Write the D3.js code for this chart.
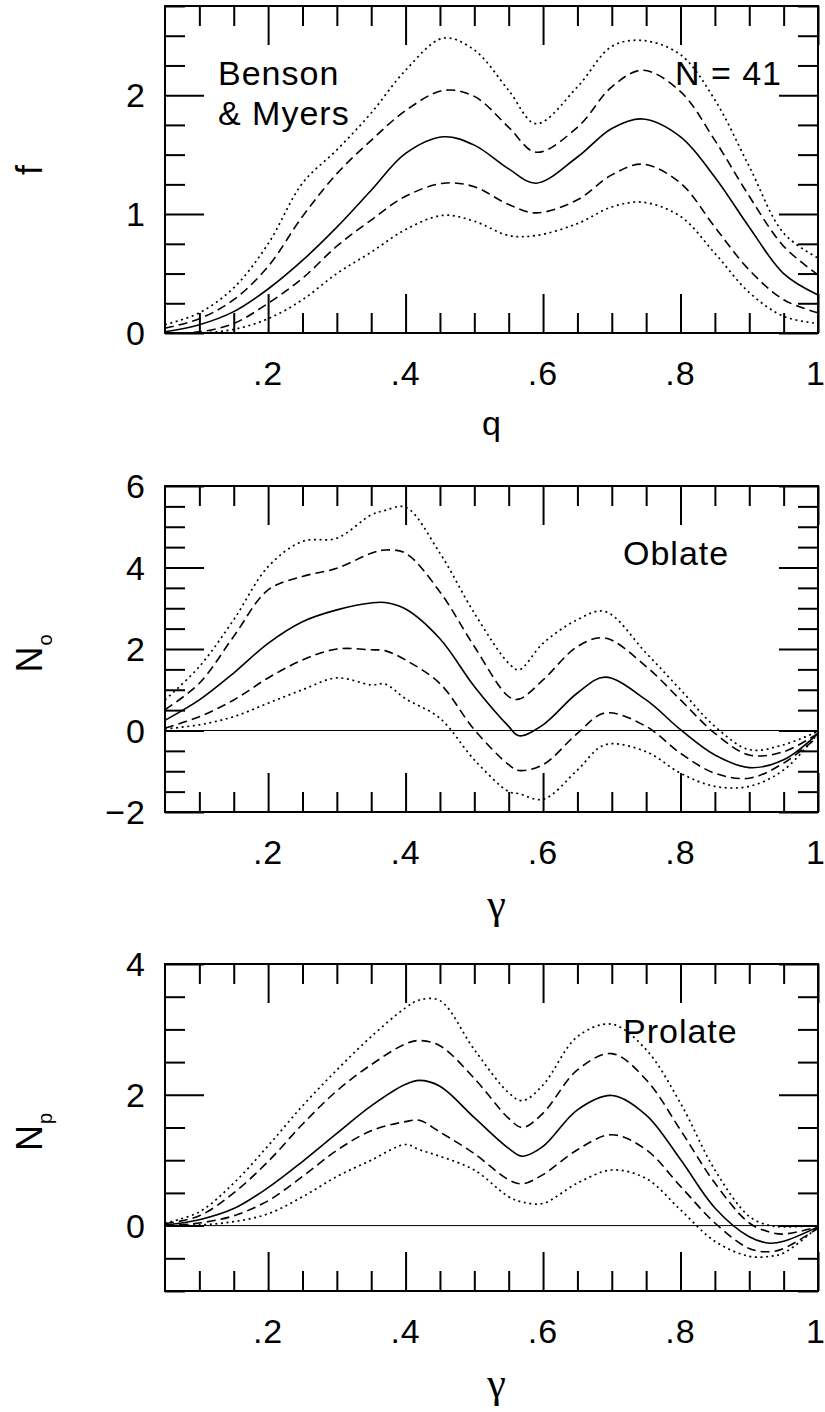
<!DOCTYPE html>
<html>
<head>
<meta charset="utf-8">
<script src="https://cdn.jsdelivr.net/npm/d3@7"></script>
<style>
  body { margin: 0; background: #fff; }
  svg { display: block; }
  text { font-family: "Liberation Sans", Arial, sans-serif; fill: #000; letter-spacing: 1px; }
</style>
</head>
<body>
<script>
const width = 825;
const height = 1412;

// shared x axis
const xDomain = [0.05, 1];
const xMajor = [0.2, 0.4, 0.6, 0.8, 1];
const xLabels = [".2", ".4", ".6", ".8", "1"];
const xMinor = d3.range(0.1, 1.0001, 0.05);

// panel 1: f(q), Benson & Myers
const q1 = [0.05,0.1,0.15,0.2,0.25,0.3,0.35,0.4,0.455,0.5,0.55,0.59,0.65,0.7,0.745,0.8,0.85,0.9,0.95,1];
const f1Median = [0.01,0.07,0.18,0.37,0.61,0.89,1.20,1.51,1.65,1.58,1.38,1.26,1.48,1.72,1.80,1.65,1.31,0.89,0.50,0.32];
const f1DashHi = [0.04,0.12,0.28,0.56,0.98,1.34,1.62,1.87,2.04,1.99,1.73,1.52,1.73,2.07,2.21,2.03,1.62,1.15,0.73,0.49];
const f1DashLo = [0.0,0.01,0.08,0.25,0.46,0.73,0.95,1.15,1.26,1.23,1.08,1.01,1.12,1.33,1.42,1.26,0.89,0.53,0.28,0.17];
const f1DotHi = [0.07,0.17,0.38,0.75,1.26,1.54,1.85,2.21,2.48,2.38,2.04,1.76,2.07,2.41,2.46,2.34,1.96,1.40,0.84,0.63];
const f1DotLo = [0.0,0.0,0.03,0.12,0.28,0.50,0.68,0.87,0.99,0.94,0.82,0.82,0.92,1.06,1.10,0.98,0.67,0.34,0.14,0.08];

// panel 2: N_o(gamma), oblate
const g2 = [0.05,0.1,0.15,0.2,0.25,0.3,0.35,0.37,0.4,0.45,0.5,0.55,0.565,0.6,0.65,0.69,0.75,0.8,0.85,0.9,0.95,1];
const n2Median = [0.25,0.75,1.41,2.14,2.67,2.96,3.13,3.14,2.98,2.25,1.08,0.10,-0.13,0.14,0.92,1.31,0.75,0.02,-0.60,-0.91,-0.72,-0.07];
const n2DashHi = [0.51,1.16,2.31,3.45,3.78,3.98,4.35,4.43,4.35,3.40,2.06,0.83,0.77,1.24,2.06,2.27,1.57,0.75,-0.07,-0.60,-0.52,-0.07];
const n2DashLo = [0.06,0.34,0.75,1.29,1.73,2.0,1.98,1.96,1.73,1.15,0.02,-0.84,-0.98,-0.84,-0.07,0.43,0.10,-0.56,-1.05,-1.17,-0.80,-0.15];
const n2DotHi = [0.75,1.57,2.72,4.02,4.64,4.72,5.29,5.40,5.48,4.35,2.88,1.65,1.49,2.14,2.72,2.92,1.90,1.0,0.10,-0.47,-0.35,-0.02];
const n2DotLo = [0.04,0.14,0.34,0.67,1.0,1.29,1.12,1.14,0.78,0.30,-0.72,-1.50,-1.55,-1.69,-0.97,-0.35,-0.52,-1.05,-1.37,-1.37,-0.97,-0.07];

// panel 3: N_p(gamma), prolate
const g3 = [0.05,0.1,0.15,0.2,0.25,0.3,0.35,0.4,0.42,0.45,0.5,0.55,0.57,0.6,0.65,0.7,0.75,0.8,0.85,0.9,0.93,0.95,1];
const n3Median = [0.01,0.09,0.26,0.58,0.98,1.41,1.83,2.16,2.22,2.13,1.65,1.18,1.06,1.21,1.77,1.99,1.69,1.01,0.27,-0.17,-0.27,-0.24,-0.02];
const n3DashHi = [0.03,0.15,0.50,0.98,1.55,2.06,2.46,2.78,2.83,2.75,2.25,1.64,1.5,1.72,2.38,2.63,2.23,1.46,0.65,0.04,-0.10,-0.13,-0.02];
const n3DashLo = [0.0,0.04,0.15,0.38,0.75,1.15,1.45,1.59,1.61,1.43,1.10,0.70,0.64,0.78,1.16,1.39,1.16,0.6,0.04,-0.35,-0.40,-0.35,-0.04];
const n3DotHi = [0.04,0.21,0.65,1.22,1.83,2.38,2.89,3.33,3.45,3.44,2.69,2.03,1.91,2.15,2.89,3.08,2.69,1.87,0.85,0.14,0.0,-0.02,0.0];
const n3DotLo = [0.0,0.01,0.06,0.18,0.44,0.75,1.0,1.24,1.16,1.06,0.85,0.44,0.36,0.34,0.65,0.85,0.72,0.24,-0.24,-0.47,-0.47,-0.42,-0.02];

const styles = {
  solid:  { dash: null,    w: 1.6 },
  dashed: { dash: "9,5",   w: 1.6 },
  dotted: { dash: "2,3.6", w: 1.7 }
};

const panels = [
  { top: 6, bottom: 333, yDomain: [0, 2.75], yMajor: [0, 1, 2], yMinorStep: 0.25,
    yLabels: [0, 1, 2], xTitle: "q", yTitle: "f", ySub: "", zeroLine: false,
    x: q1, series: [[f1DotHi,"dotted"],[f1DashHi,"dashed"],[f1Median,"solid"],[f1DashLo,"dashed"],[f1DotLo,"dotted"]] },
  { top: 486, bottom: 812, yDomain: [-2, 6], yMajor: [-2, 0, 2, 4, 6], yMinorStep: 0.5,
    yLabels: [-2, 0, 2, 4, 6], xTitle: "γ", yTitle: "N", ySub: "o", zeroLine: true,
    x: g2, series: [[n2DotHi,"dotted"],[n2DashHi,"dashed"],[n2Median,"solid"],[n2DashLo,"dashed"],[n2DotLo,"dotted"]] },
  { top: 964, bottom: 1291, yDomain: [-1, 4], yMajor: [0, 2, 4], yMinorStep: 0.5,
    yLabels: [0, 2, 4], xTitle: "γ", yTitle: "N", ySub: "p", zeroLine: true,
    x: g3, series: [[n3DotHi,"dotted"],[n3DashHi,"dashed"],[n3Median,"solid"],[n3DashLo,"dashed"],[n3DotLo,"dotted"]] }
];

const left = 165, right = 818;
const majorLen = 39, minorLen = 20;
const fs = 34;

const svg = d3.select("body").append("svg")
  .attr("width", width)
  .attr("height", height);

const x = d3.scaleLinear().domain(xDomain).range([left, right]);

const fmtY = d => d < 0 ? "\u2212" + Math.abs(d) : String(d);

panels.forEach((p, i) => {
  const y = d3.scaleLinear().domain(p.yDomain).range([p.bottom, p.top]);
  const g = svg.append("g").attr("class", "panel" + i);
  const h = p.bottom - p.top;

  const yMinor = d3.range(Math.ceil(p.yDomain[0] / p.yMinorStep) * p.yMinorStep, p.yDomain[1] + 1e-9, p.yMinorStep)
    .filter(v => !p.yMajor.some(m => Math.abs(m - v) < 1e-9));
  const xMin = xMinor.filter(v => !xMajor.some(m => Math.abs(m - v) < 1e-9));

  const tickStyle = sel => {
    sel.select(".domain").remove();
    sel.selectAll(".tick line").attr("stroke", "#000").attr("stroke-width", 2);
    sel.selectAll(".tick text").remove();
  };

  // inward ticks on all four sides
  g.append("g").attr("transform", `translate(0,${p.bottom})`)
    .call(d3.axisBottom(x).tickValues(xMin).tickSize(-minorLen)).call(tickStyle);
  g.append("g").attr("transform", `translate(0,${p.bottom})`)
    .call(d3.axisBottom(x).tickValues(xMajor).tickSize(-majorLen)).call(tickStyle);
  g.append("g").attr("transform", `translate(0,${p.top})`)
    .call(d3.axisTop(x).tickValues(xMin).tickSize(-minorLen)).call(tickStyle);
  g.append("g").attr("transform", `translate(0,${p.top})`)
    .call(d3.axisTop(x).tickValues(xMajor).tickSize(-majorLen)).call(tickStyle);
  g.append("g").attr("transform", `translate(${left},0)`)
    .call(d3.axisLeft(y).tickValues(yMinor).tickSize(-minorLen)).call(tickStyle);
  g.append("g").attr("transform", `translate(${left},0)`)
    .call(d3.axisLeft(y).tickValues(p.yMajor).tickSize(-majorLen)).call(tickStyle);
  g.append("g").attr("transform", `translate(${right},0)`)
    .call(d3.axisRight(y).tickValues(yMinor).tickSize(-minorLen)).call(tickStyle);
  g.append("g").attr("transform", `translate(${right},0)`)
    .call(d3.axisRight(y).tickValues(p.yMajor).tickSize(-majorLen)).call(tickStyle);

  // frame
  g.append("rect")
    .attr("x", left).attr("y", p.top)
    .attr("width", right - left).attr("height", h)
    .attr("fill", "none").attr("stroke", "#000").attr("stroke-width", 2);

  if (p.zeroLine) {
    g.append("line")
      .attr("x1", left).attr("x2", right)
      .attr("y1", y(0)).attr("y2", y(0))
      .attr("stroke", "#000").attr("stroke-width", 1);
  }

  // tick labels
  g.selectAll(".xlab").data(xMajor).enter().append("text")
    .attr("x", d => x(d) - (d === 1 ? 2 : 0)).attr("y", p.bottom + 52)
    .attr("text-anchor", "middle").attr("font-size", fs)
    .text((d, k) => xLabels[k]);
  g.selectAll(".ylab").data(p.yLabels).enter().append("text")
    .attr("x", left - 19).attr("y", d => y(d) + 12)
    .attr("text-anchor", "end").attr("font-size", fs)
    .text(fmtY);

  // axis titles
  if (p.xTitle === "q") {
    g.append("text")
      .attr("x", 492).attr("y", p.bottom + 102)
      .attr("text-anchor", "middle").attr("font-size", fs)
      .text(p.xTitle);
  } else {
    g.append("text")
      .attr("x", 497).attr("y", p.bottom + 106)
      .attr("text-anchor", "middle").attr("font-size", 42)
      .style("font-family", "'Liberation Serif', serif")
      .text(p.xTitle);
  }
  const yt = g.append("text")
    .attr("transform", `translate(42,${(p.top + p.bottom) / 2 + (p.ySub ? 4 : 0)}) rotate(-90)`)
    .attr("text-anchor", "middle").attr("font-size", 36);
  yt.append("tspan").text(p.yTitle);
  if (p.ySub) yt.append("tspan").attr("font-size", 20).attr("dy", 10).text(p.ySub);

  // curves
  const clipId = "clip" + i;
  svg.append("clipPath").attr("id", clipId).append("rect")
    .attr("x", left).attr("y", p.top).attr("width", right - left).attr("height", h);
  const line = d3.line()
    .x(d => x(d[0])).y(d => y(d[1]))
    .curve(d3.curveCatmullRom.alpha(0.5));
  p.series.forEach(([vals, kind]) => {
    const st = styles[kind];
    g.append("path")
      .datum(p.x.map((v, k) => [v, vals[k]]))
      .attr("clip-path", `url(#${clipId})`)
      .attr("d", line)
      .attr("fill", "none")
      .attr("stroke", "#000")
      .attr("stroke-width", st.w)
      .attr("stroke-dasharray", st.dash);
  });
});

// panel annotations
svg.append("text").attr("x", 218).attr("y", 85).attr("font-size", fs).text("Benson");
svg.append("text").attr("x", 218).attr("y", 125).attr("font-size", fs).text("& Myers");
svg.append("text").attr("x", 782).attr("y", 85).attr("text-anchor", "end").attr("font-size", fs).text("N = 41");
svg.append("text").attr("x", 623).attr("y", 565).attr("font-size", fs).text("Oblate");
svg.append("text").attr("x", 623).attr("y", 1043).attr("font-size", fs).text("Prolate");
</script>
</body>
</html>
